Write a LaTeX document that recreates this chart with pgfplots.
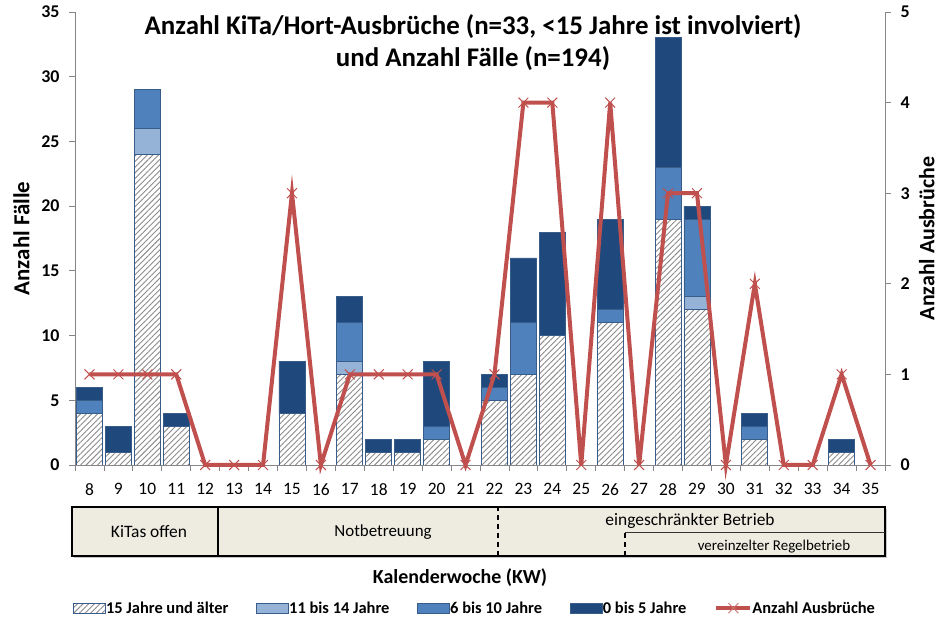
\documentclass[border=0pt]{standalone}
\usepackage{pgfplots}
\pgfplotsset{compat=1.18}
\usepackage{pgfplotstable}
\usepackage{fontspec}
\setmainfont{Carlito}
\usetikzlibrary{patterns.meta,shadows}
\definecolor{dk}{RGB}{31,73,125}
\definecolor{md}{RGB}{79,129,189}
\definecolor{lt}{RGB}{149,179,215}
\definecolor{edge}{RGB}{56,93,138}
\definecolor{redl}{RGB}{192,80,77}
\definecolor{beige}{RGB}{238,236,225}
\definecolor{axgray}{RGB}{134,134,134}
\definecolor{hatch}{RGB}{140,140,140}
\pgfplotsset{
  legbar/.style={legend image code/.code={\draw[##1] (0bp,-5bp) rectangle (32bp,5bp);}},
  legline/.style={legend image code/.code={\draw[##1] (0bp,0bp) -- (34bp,0bp); \draw[redl!80, line width=0.8bp] (12bp,-5bp) -- (22bp,5bp) (12bp,5bp) -- (22bp,-5bp);}},
}
\pgfplotstableread{
x kw a b c d n
0 8 4 0 1 1 1
1 9 1 0 0 2 1
2 10 24 2 3 0 1
3 11 3 0 0 1 1
4 12 0 0 0 0 0
5 13 0 0 0 0 0
6 14 0 0 0 0 0
7 15 4 0 0 4 3
8 16 0 0 0 0 0
9 17 7 1 3 2 1
10 18 1 0 0 1 1
11 19 1 0 0 1 1
12 20 2 0 1 5 1
13 21 0 0 0 0 0
14 22 5 0 1 1 1
15 23 7 0 4 5 4
16 24 10 0 0 8 4
17 25 0 0 0 0 0
18 26 11 0 1 7 4
19 27 0 0 0 0 0
20 28 19 0 4 10 3
21 29 12 1 6 1 3
22 30 0 0 0 0 0
23 31 2 0 1 1 2
24 32 0 0 0 0 0
25 33 0 0 0 0 0
26 34 1 0 0 1 1
27 35 0 0 0 0 0
}\data
\begin{document}
\begin{tikzpicture}
\begin{axis}[
  at={(75bp,154bp)}, anchor=south west, scale only axis,
  width=810bp, height=453bp,
  ybar stacked, bar width=26bp,
  xmin=-0.5, xmax=27.5, ymin=0, ymax=35,
  axis x line*=bottom, axis y line*=left,
  axis line style={-, draw=axgray, line width=0.8bp},
  xtick={0,...,27},
  xticklabels={8,9,10,11,12,13,14,15,16,17,18,19,20,21,22,23,24,25,26,27,28,29,30,31,32,33,34,35},
  minor xtick={-0.5,0.5,...,27.5},
  major x tick style={draw=none},
  minor x tick style={draw=axgray, line width=0.8bp},
  ytick={0,5,...,35},
  ytick style={draw=axgray, line width=0.8bp},
  tick align=outside, major tick length=6bp, minor tick length=6bp,
  /pgf/number format/assume math mode=true,
  yticklabel style={font=\fontsize{18}{18}\selectfont\bfseries, xshift=-6bp},
  xticklabel style={font=\fontsize{17.5}{17.5}\selectfont, yshift=-9bp},
  ylabel={Anzahl Fälle},
  ylabel style={font=\fontsize{23}{23}\selectfont\bfseries, at={(axis description cs:-0.066,0.5)}, anchor=center},
  legend style={at={(axis description cs:0.494,-0.316)}, anchor=center, legend columns=5, draw=none,
    font=\fontsize{16.5}{16.5}\selectfont\bfseries,
    /tikz/every even column/.append style={column sep=26bp},
    /tikz/every odd column/.append style={column sep=-2bp}},
  legend cell align=left,
]
\addplot[draw=edge, line width=0.8bp, fill=white, postaction={pattern={Lines[angle=45,distance=4bp,line width=0.9bp]}, pattern color=hatch}, legbar] table[x=x,y=a]{\data};
\addlegendentry{15 Jahre und älter}
\addplot[draw=edge, line width=0.8bp, fill=lt, legbar] table[x=x,y=b]{\data};
\addlegendentry{11 bis 14 Jahre}
\addplot[draw=edge, line width=0.8bp, fill=md, legbar] table[x=x,y=c]{\data};
\addlegendentry{6 bis 10 Jahre}
\addplot[draw=edge, line width=0.8bp, fill=dk, legbar] table[x=x,y=d]{\data};
\addlegendentry{0 bis 5 Jahre}
\addlegendimage{redl, line width=4bp, legline}
\addlegendentry{Anzahl Ausbrüche}
\end{axis}
\begin{axis}[
  at={(75bp,154bp)}, anchor=south west, scale only axis,
  width=810bp, height=453bp,
  xmin=-0.5, xmax=27.5, ymin=0, ymax=5,
  axis x line=none, axis y line*=right,
  axis line style={-, draw=axgray, line width=0.8bp},
  ytick={0,1,2,3,4,5},
  ytick style={draw=axgray, line width=0.8bp},
  tick align=outside, major tick length=6bp,
  /pgf/number format/assume math mode=true,
  yticklabel style={font=\fontsize{18}{18}\selectfont\bfseries, xshift=6bp},
  ylabel={Anzahl Ausbrüche},
  ylabel style={font=\fontsize{22}{22}\selectfont\bfseries, at={(axis description cs:1.0515,0.5)}, anchor=center, inner sep=1bp},
  clip=false,
]
\addplot[redl, line width=4bp, mark=x, mark size=7bp, mark options={line width=1bp}] table[x=x,y=n]{\data};
\end{axis}
% title
\node[anchor=north, align=center, font=\fontsize{27}{32}\selectfont\bfseries] at (473bp,608bp)
  {Anzahl KiTa/Hort-Ausbrüche (n=33, <15 Jahre ist involviert)\\und Anzahl Fälle (n=194)};
% band
\draw[line width=1.3bp, fill=beige, drop shadow={shadow xshift=1.5bp, shadow yshift=-2.5bp, opacity=0.45}] (72bp,63bp) rectangle (885bp,112bp);
\draw[line width=1.2bp] (218bp,63bp) -- (218bp,112bp);
\draw[line width=1.2bp, dash pattern=on 5bp off 4bp] (498bp,63bp) -- (498bp,112bp);
\draw[line width=1.2bp, dash pattern=on 5bp off 4bp] (625bp,63bp) -- (625bp,86bp);
\draw[line width=1bp, draw=black!80] (625bp,86bp) -- (885bp,86bp);
\node[font=\fontsize{17.5}{17.5}\selectfont] at (149bp,87bp) {KiTas offen};
\node[font=\fontsize{17}{17}\selectfont] at (383bp,87bp) {Notbetreuung};
\node[font=\fontsize{17.5}{17.5}\selectfont] at (690bp,98bp) {eingeschränkter Betrieb};
\node[font=\fontsize{15}{15}\selectfont] at (774bp,72bp) {vereinzelter Regelbetrieb};
\node[font=\fontsize{20}{20}\selectfont\bfseries] at (460bp,41bp) {Kalenderwoche (KW)};
\pgfresetboundingbox
\path[use as bounding box] (0,0) rectangle (939bp,619bp);
\end{tikzpicture}
\end{document}
